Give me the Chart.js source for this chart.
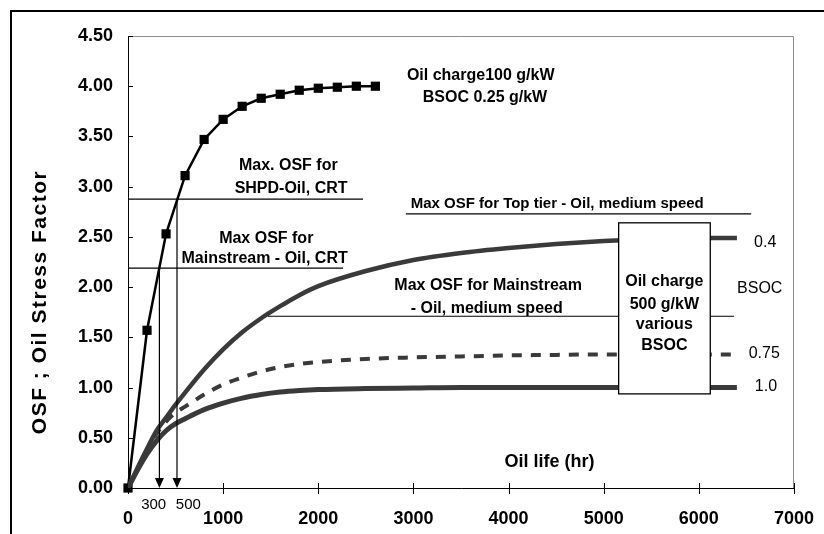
<!DOCTYPE html>
<html lang="en">
<head>
    <meta charset="UTF-8">
    <title>OSF vs Oil life</title>
    <script src="https://cdn.jsdelivr.net/npm/chart.js"></script>
    <style>
        body { margin: 0; background: #fff; }
        canvas { display: block; }
    </style>
</head>
<body>
    <canvas id="osfChart" width="824" height="534"></canvas>

    <script>
        // Oil charge 100 g/kW, BSOC 0.25 g/kW (square markers)
        const hours100 = [0, 200, 400, 600, 800, 1000, 1200, 1400, 1600, 1800, 2000, 2200, 2400, 2600];
        const osf100 = [0, 1.57, 2.53, 3.11, 3.47, 3.67, 3.80, 3.88, 3.92, 3.96, 3.98, 3.99, 4.00, 4.00];

        // Oil charge 500 g/kW, various BSOC
        const hoursBsoc = [0, 100, 200, 300, 400, 500, 600, 800, 1000, 1200, 1400, 1600, 1800, 2000, 2500, 3000, 3500, 4000, 4500, 5000, 5500, 6000, 6400];
        const osfBsoc04 = [0, 0.20, 0.39, 0.57, 0.70, 0.83, 0.95, 1.18, 1.38, 1.55, 1.69, 1.81, 1.92, 2.01, 2.16, 2.27, 2.34, 2.39, 2.43, 2.46, 2.48, 2.49, 2.49];
        const osfBsoc075 = [0, 0.19, 0.37, 0.54, 0.66, 0.75, 0.81, 0.93, 1.03, 1.10, 1.16, 1.205, 1.235, 1.255, 1.285, 1.30, 1.31, 1.32, 1.325, 1.33, 1.33, 1.33, 1.33];
        const osfBsoc10 = [0, 0.18, 0.34, 0.47, 0.57, 0.64, 0.69, 0.78, 0.845, 0.895, 0.93, 0.955, 0.97, 0.98, 0.99, 0.995, 1.00, 1.00, 1.00, 1.00, 1.00, 1.00, 1.00];

        // max OSF limits (horizontal lines)
        const limitValues = [2.875, 2.19, 2.73, 1.71];
        const limitFrom = [0, 0, 2920, 1470];
        const limitTo = [2470, 2260, 6550, 6370];

        const arrowHours = [330, 515];
        const arrowTop = [2.19, 2.875];

        const xTicks = [0, 1000, 2000, 3000, 4000, 5000, 6000, 7000];

        const FONT = "'Liberation Sans', Arial, sans-serif";
        const GREY = '#3a3a3a';

        const pts = (xs, ys) => xs.map((x, i) => ({ x: x, y: ys[i] }));

        // text placed in data units (centre of the line of text)
        const notes = [
            { t: 'Oil charge100 g/kW', x: 3707, y: 4.11, size: 16, bold: true },
            { t: 'BSOC 0.25 g/kW', x: 3752, y: 3.89, size: 16, bold: true },
            { t: 'Max. OSF for', x: 1685, y: 3.21, size: 16, bold: true },
            { t: 'SHPD-Oil, CRT', x: 1714, y: 2.98, size: 16, bold: true },
            { t: 'Max OSF for', x: 1453, y: 2.48, size: 16, bold: true },
            { t: 'Mainstream - Oil, CRT', x: 1436, y: 2.28, size: 16, bold: true },
            { t: 'Max OSF for Top tier - Oil, medium speed', x: 4511, y: 2.83, size: 15, bold: true },
            { t: 'Max OSF for Mainstream', x: 3785, y: 2.02, size: 16, bold: true },
            { t: '- Oil, medium speed', x: 3770, y: 1.79, size: 16, bold: true },
            { t: 'Oil life (hr)', x: 4429, y: 0.26, size: 18, bold: true },
            { t: '300', x: 270, y: -0.17, size: 15, bold: false },
            { t: '500', x: 634, y: -0.17, size: 15, bold: false },
            { t: '0.4', x: 6697, y: 2.44, size: 16, bold: false },
            { t: 'BSOC', x: 6640, y: 1.99, size: 16, bold: false },
            { t: '0.75', x: 6687, y: 1.335, size: 16, bold: false },
            { t: '1.0', x: 6705, y: 1.01, size: 16, bold: false }
        ];
        const boxNote = {
            x0: 5157, x1: 6120, y0: 0.937, y1: 2.64,
            lines: [['Oil charge', 2.054], ['500 g/kW', 1.822], ['various', 1.623], ['BSOC', 1.414]],
            cx: 5637
        };

        const decorations = {
            id: 'decorations',
            beforeDraw(chart) {
                const ctx = chart.ctx, a = chart.chartArea;
                ctx.save();
                ctx.fillStyle = '#fff';
                ctx.fillRect(0, 0, chart.width, chart.height);
                // outer frame (left and top only)
                ctx.strokeStyle = '#000';
                ctx.lineWidth = 2;
                ctx.beginPath();
                ctx.moveTo(11, chart.height);
                ctx.lineTo(11, 11);
                ctx.lineTo(chart.width, 11);
                ctx.stroke();
                // plot area: grey top/right
                ctx.strokeStyle = '#8c8c8c';
                ctx.lineWidth = 1;
                ctx.beginPath();
                ctx.moveTo(a.left, a.top + 0.5);
                ctx.lineTo(a.right - 0.5, a.top + 0.5);
                ctx.lineTo(a.right - 0.5, a.bottom);
                ctx.stroke();
                // y title
                ctx.translate(40, 302);
                ctx.rotate(-Math.PI / 2);
                ctx.font = 'bold 21px ' + FONT;
                ctx.letterSpacing = '1.5px';
                ctx.fillStyle = '#000';
                ctx.textAlign = 'center';
                ctx.textBaseline = 'middle';
                ctx.fillText('OSF ; Oil Stress Factor', 0, 0);
                ctx.restore();
            },
            beforeDatasetsDraw(chart) {
                const ctx = chart.ctx, a = chart.chartArea;
                const xs = chart.scales.x, ys = chart.scales.y;
                ctx.save();
                ctx.strokeStyle = '#000';
                ctx.lineWidth = 1;
                ctx.beginPath();
                ctx.moveTo(a.left + 0.5, a.top);
                ctx.lineTo(a.left + 0.5, a.bottom + 0.5);
                ctx.lineTo(a.right, a.bottom + 0.5);
                ctx.stroke();
                // tick marks
                ctx.beginPath();
                ys.ticks.forEach(t => {
                    const py = Math.round(ys.getPixelForValue(t.value)) + 0.5;
                    ctx.moveTo(a.left, py);
                    ctx.lineTo(a.left + 5, py);
                });
                xTicks.forEach(v => {
                    const px = Math.round(xs.getPixelForValue(v)) + 0.5;
                    ctx.moveTo(px, a.bottom - 5);
                    ctx.lineTo(px, a.bottom + 6);
                });
                ctx.stroke();
                ctx.restore();
            },
            afterDatasetsDraw(chart) {
                const ctx = chart.ctx;
                const xs = chart.scales.x, ys = chart.scales.y;
                ctx.save();
                // arrow heads
                ctx.fillStyle = '#000';
                arrowHours.forEach(h => {
                    const px = xs.getPixelForValue(h), py = ys.getPixelForValue(0);
                    ctx.beginPath();
                    ctx.moveTo(px - 4.5, py - 10);
                    ctx.lineTo(px + 4.5, py - 10);
                    ctx.lineTo(px, py);
                    ctx.closePath();
                    ctx.fill();
                });
                // white box
                const bx0 = xs.getPixelForValue(boxNote.x0), bx1 = xs.getPixelForValue(boxNote.x1);
                const by0 = ys.getPixelForValue(boxNote.y1), by1 = ys.getPixelForValue(boxNote.y0);
                ctx.fillStyle = '#fff';
                ctx.fillRect(bx0, by0, bx1 - bx0, by1 - by0);
                ctx.strokeStyle = '#000';
                ctx.lineWidth = 1.3;
                ctx.strokeRect(bx0, by0, bx1 - bx0, by1 - by0);
                ctx.fillStyle = '#000';
                ctx.textAlign = 'center';
                ctx.textBaseline = 'middle';
                ctx.font = 'bold 16px ' + FONT;
                boxNote.lines.forEach(l => {
                    ctx.fillText(l[0], xs.getPixelForValue(boxNote.cx), ys.getPixelForValue(l[1]));
                });
                // notes
                notes.forEach(n => {
                    ctx.font = (n.bold ? 'bold ' : '') + n.size + 'px ' + FONT;
                    ctx.fillText(n.t, xs.getPixelForValue(n.x), ys.getPixelForValue(n.y));
                });
                ctx.restore();
            }
        };

        const limitSets = limitValues.map((v, i) => ({
            data: [{ x: limitFrom[i], y: v }, { x: limitTo[i], y: v }],
            borderColor: '#000',
            borderWidth: 1.2,
            pointRadius: 0
        }));
        const arrowSets = arrowHours.map((h, i) => ({
            data: [{ x: h, y: arrowTop[i] }, { x: h, y: 0.05 }],
            borderColor: '#000',
            borderWidth: 1.2,
            pointRadius: 0
        }));

        const ctx = document.getElementById('osfChart').getContext('2d');
        new Chart(ctx, {
            type: 'line',
            data: {
                datasets: [
                    ...limitSets,
                    ...arrowSets,
                    {
                        label: 'BSOC 1.0',
                        data: pts(hoursBsoc, osfBsoc10),
                        borderColor: GREY,
                        borderWidth: 5,
                        pointRadius: 0,
                        cubicInterpolationMode: 'monotone'
                    },
                    {
                        label: 'BSOC 0.75',
                        data: pts(hoursBsoc, osfBsoc075),
                        borderColor: GREY,
                        borderWidth: 4,
                        borderDash: [10, 9],
                        pointRadius: 0,
                        cubicInterpolationMode: 'monotone'
                    },
                    {
                        label: 'BSOC 0.4',
                        data: pts(hoursBsoc, osfBsoc04),
                        borderColor: GREY,
                        borderWidth: 4.5,
                        pointRadius: 0,
                        cubicInterpolationMode: 'monotone'
                    },
                    {
                        label: 'Oil charge 100 g/kW',
                        data: pts(hours100, osf100),
                        borderColor: '#000',
                        backgroundColor: '#000',
                        borderWidth: 2.5,
                        pointStyle: 'rect',
                        pointRadius: 6.5,
                        pointBorderWidth: 0,
                        tension: 0,
                        clip: false
                    }
                ]
            },
            options: {
                responsive: false,
                animation: false,
                layout: { padding: { top: 36, right: 30, left: 0, bottom: 0 } },
                plugins: {
                    legend: { display: false },
                    tooltip: { enabled: false }
                },
                scales: {
                    x: {
                        type: 'linear',
                        min: 0,
                        max: 7000,
                        grid: { display: false, drawTicks: false },
                        border: { display: false },
                        afterFit: s => { s.height = 46; s.paddingLeft = 0; s.paddingRight = 0; },
                        ticks: {
                            stepSize: 1000,
                            padding: 20,
                            color: '#000',
                            maxRotation: 0,
                            font: { family: FONT, size: 18, weight: 'bold' },
                            callback: v => String(v)
                        }
                    },
                    y: {
                        min: 0,
                        max: 4.5,
                        grid: { display: false, drawTicks: false },
                        border: { display: false },
                        afterFit: s => { s.width = 128; s.paddingTop = 0; s.paddingBottom = 0; },
                        ticks: {
                            stepSize: 0.5,
                            padding: 15,
                            color: '#000',
                            font: { family: FONT, size: 18, weight: 'bold' },
                            callback: v => v.toFixed(2)
                        }
                    }
                }
            },
            plugins: [decorations]
        });
    </script>
</body>
</html>
